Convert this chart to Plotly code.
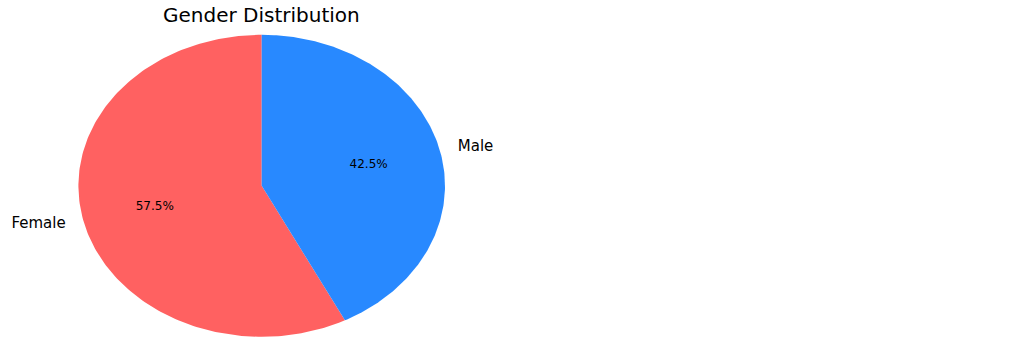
import numpy as np
import plotly.graph_objects as go

# Data
categories = ["Female", "Male"]
values = [57.5, 42.5]
colors = ["#FF6161", "#2889FF"]
title_text = "Gender Distribution"

# Layout geometry (pixels)
W, H = 1017, 347
cx, cy = 261.7, 185.8
rx, ry = 183.3, 151.0
start_angle = 90.0  # degrees, counterclockwise

fig = go.Figure()

total = sum(values)
theta0 = start_angle
for cat, val, col in zip(categories, values, colors):
    span = 360.0 * val / total
    t = np.radians(np.linspace(theta0, theta0 + span, 200))
    xs = np.concatenate([[0], np.cos(t), [0]])
    ys = np.concatenate([[0], np.sin(t), [0]])
    fig.add_trace(go.Scatter(x=xs, y=ys, fill="toself", fillcolor=col,
                             mode="lines", line=dict(width=0, color=col),
                             hoverinfo="skip", showlegend=False))
    mid = np.radians(theta0 + span / 2)
    # percentage label
    fig.add_trace(go.Scatter(x=[0.6 * np.cos(mid)], y=[0.6 * np.sin(mid)],
                             mode="text", text=[f"{val:.1f}%"],
                             textposition="middle center",
                             textfont=dict(family="DejaVu Sans", size=12, color="black"),
                             hoverinfo="skip", showlegend=False))
    # category label
    lx, ly = 1.1 * np.cos(mid), 1.1 * np.sin(mid)
    fig.add_trace(go.Scatter(x=[lx], y=[ly], mode="text", text=[cat],
                             textposition="middle left" if lx < 0 else "middle right",
                             textfont=dict(family="DejaVu Sans", size=15, color="black"),
                             hoverinfo="skip", showlegend=False))
    theta0 += span

fig.update_layout(
    width=W, height=H,
    margin=dict(l=0, r=0, t=0, b=0),
    paper_bgcolor="white", plot_bgcolor="white",
    xaxis=dict(range=[-cx / rx, (W - cx) / rx], visible=False, fixedrange=True),
    yaxis=dict(range=[-(H - cy) / ry, cy / ry], visible=False, fixedrange=True),
    annotations=[dict(text=title_text, x=cx / W, y=1 - 15 / H, xref="paper", yref="paper",
                      xanchor="center", yanchor="middle", showarrow=False,
                      font=dict(family="DejaVu Sans", size=20, color="black"))],
)

fig.write_html("out.html")
